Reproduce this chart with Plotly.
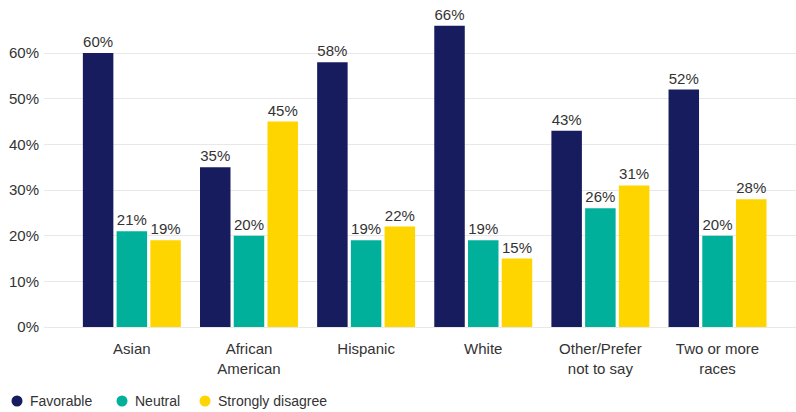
import plotly.graph_objects as go

# Survey responses by race / ethnicity (percent of respondents)
categories = ["Asian", "African<br>American", "Hispanic", "White",
              "Other/Prefer<br>not to say", "Two or more<br>races"]
favorable = [60, 35, 58, 66, 43, 52]
neutral = [21, 20, 19, 19, 26, 20]
strongly_disagree = [19, 45, 22, 15, 31, 28]

y_ticks = [0, 10, 20, 30, 40, 50, 60]
y_tick_labels = [f"{v}%" for v in y_ticks]

series_names = ["Favorable", "Neutral", "Strongly disagree"]
series_values = [favorable, neutral, strongly_disagree]
series_colors = ["#171C5F", "#00B09B", "#FFD500"]

FONT = "Liberation Sans, Arial, sans-serif"
TEXT_COLOR = "#333333"

# Plot area geometry in pixels (used to place the custom legend)
W, H = 796, 412
M_L, M_R, M_T, M_B = 44, 0, 12, 85
PLOT_W = W - M_L - M_R
PLOT_H = H - M_T - M_B

fig = go.Figure()
for name, values, color in zip(series_names, series_values, series_colors):
    fig.add_trace(go.Bar(
        x=categories,
        y=values,
        name=name,
        marker=dict(color=color, line=dict(width=0)),
        text=[f"{v}%" for v in values],
        textposition="outside",
        textfont=dict(size=15, color=TEXT_COLOR, family=FONT),
        cliponaxis=False,
        showlegend=False,
        hovertemplate="%{y}%<extra>" + name + "</extra>",
    ))

# Legend row with round markers along the bottom edge
legend_marker_px = [17, 122, 205]
legend_y_px = 401
shapes = []
annotations = []
for name, color, cx in zip(series_names, series_colors, legend_marker_px):
    xp = (cx - M_L) / PLOT_W
    yp = (H - M_B - legend_y_px) / PLOT_H
    shapes.append(dict(
        type="circle", xref="paper", yref="paper",
        xsizemode="pixel", ysizemode="pixel",
        xanchor=xp, yanchor=yp,
        x0=-5.5, x1=5.5, y0=-5.5, y1=5.5,
        fillcolor=color, line=dict(width=0),
    ))
    annotations.append(dict(
        text=name, xref="paper", yref="paper",
        x=(cx + 11 - M_L) / PLOT_W, y=yp,
        xanchor="left", yanchor="middle", showarrow=False,
        font=dict(size=14, color=TEXT_COLOR, family=FONT),
    ))

fig.update_layout(
    width=W,
    height=H,
    margin=dict(l=M_L, r=M_R, t=M_T, b=M_B),
    paper_bgcolor="white",
    plot_bgcolor="white",
    font=dict(family=FONT, size=15, color=TEXT_COLOR),
    barmode="group",
    bargap=0.136,
    bargroupgap=0.096,
    showlegend=False,
    shapes=shapes,
    annotations=annotations,
    xaxis=dict(
        range=[-0.75, 5.67],
        showgrid=False,
        showline=False,
        zeroline=False,
        ticks="outside",
        ticklen=8,
        tickcolor="rgba(0,0,0,0)",
        tickfont=dict(size=15, color=TEXT_COLOR, family=FONT),
        fixedrange=True,
    ),
    yaxis=dict(
        range=[0, 69],
        tickvals=y_ticks,
        ticktext=y_tick_labels,
        showgrid=True,
        gridcolor="#E8E8E8",
        gridwidth=1,
        zeroline=True,
        zerolinecolor="#E8E8E8",
        zerolinewidth=1,
        showline=False,
        ticks="outside",
        ticklen=1,
        tickcolor="rgba(0,0,0,0)",
        tickfont=dict(size=15, color=TEXT_COLOR, family=FONT),
        fixedrange=True,
    ),
)

fig.write_html("out.html")
